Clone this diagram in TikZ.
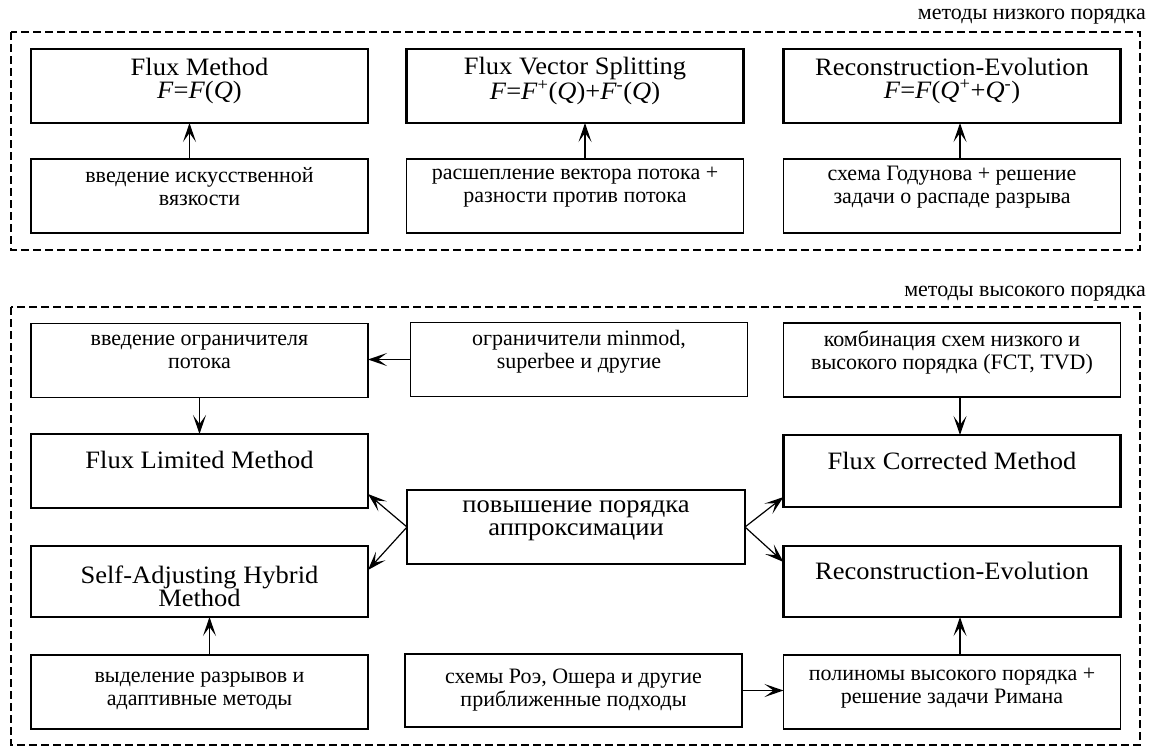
\documentclass[tikz,border=0pt]{standalone}
\usepackage{fontspec}
\setmainfont{Liberation Serif}
\newfontfamily\bigf[FakeStretch=1.06]{Liberation Serif}
\usetikzlibrary{arrows.meta}
\tikzset{
  tb/.style={draw, line width=2.6pt, minimum width=337pt, inner sep=0pt, outer sep=0pt},
  sb/.style={draw, line width=1.2pt, minimum width=337pt, inner sep=0pt, outer sep=0pt},
  bt/.style={align=center, font=\bigf\fontsize{25}{23}\selectfont, inner sep=0pt},
  st/.style={align=center, font=\fontsize{22}{23}\selectfont, inner sep=0pt},
  grp/.style={draw, line width=1.2pt, dash pattern=on 8pt off 4pt},
  grplab/.style={anchor=base east, font=\fontsize{22}{23}\selectfont, inner sep=0pt},
  arr/.style={-{Stealth[length=19pt,width=13pt,inset=9pt]}, line width=1.2pt},
  darr/.style={-{Stealth[length=19pt,width=13pt,inset=9pt]}, line width=1.9pt}
}
\begin{document}
\begin{tikzpicture}[x=1pt,y=-1pt]
\useasboundingbox (0,0) rectangle (1151,748);
% ---------- low order ----------
\node[grplab] (lab1) at (1146,19) {методы низкого порядка};
\draw[grp] (11,32) rectangle (1140,250);
\node[tb, minimum height=74pt] (fm) at (199.5,86) {};
\node[bt] (fmT) at (199.5,81) {Flux Method\\\textit{F}=\textit{F}(\textit{Q})};
\node[tb, minimum height=74pt] (fvs) at (575,86) {};
\node[bt] (fvsT) at (575,81) {Flux Vector Splitting\\\textit{F}=\textit{F}\textsuperscript{+}(\textit{Q})+\textit{F}\textsuperscript{-}(\textit{Q})};
\node[tb, minimum height=74pt] (re1) at (952,86) {};
\node[bt] (re1T) at (952,81) {Reconstruction-Evolution\\\textit{F}=\textit{F}(\textit{Q}\textsuperscript{+}+\textit{Q}\textsuperscript{-})};
\node[sb, minimum height=74pt] (av) at (199.5,196) {};
\node[st] (avT) at (199.5,187) {введение искусственной\\вязкости};
\node[sb, minimum height=74pt] (sp) at (575,196) {};
\node[st] (spT) at (575,187) {расшепление вектора потока +\\разности против потока};
\node[sb, minimum height=74pt] (gd) at (952,196) {};
\node[st] (gdT) at (952,187) {схема Годунова + решение\\задачи о распаде разрыва};
\draw[arr] ([xshift=-10pt]av.north) -- ([xshift=-10pt]fm.south);
\draw[arr] ([xshift=10pt]sp.north) -- ([xshift=10pt]fvs.south);
\draw[arr] ([xshift=8pt]gd.north) -- ([xshift=8pt]re1.south);
% ---------- high order ----------
\node[grplab] (lab2) at (1146,296) {методы высокого порядка};
\draw[grp] (11,307) rectangle (1140,745);
\node[sb, minimum height=74pt] (lim) at (199.5,360.5) {};
\node[st] (limT) at (199.5,352) {введение ограничителя\\потока};
\node[sb, minimum height=74pt] (mm) at (579,359.5) {};
\node[st] (mmT) at (579,352) {ограничители minmod,\\superbee и другие};
\node[sb, minimum height=74pt] (cmb) at (952,360) {};
\node[st] (cmbT) at (952,352) {комбинация схем низкого и\\высокого порядка (FCT, TVD)};
\node[tb, minimum height=74pt] (flm) at (199.5,471) {};
\node[bt] (flmT) at (199.5,460) {Flux Limited Method};
\node[tb, minimum height=72pt] (fcm) at (952,471) {};
\node[bt] (fcmT) at (952,461) {Flux Corrected Method};
\node[tb, minimum height=74pt, minimum width=338pt] (up) at (576,527) {};
\node[bt] (upT) at (576,521) {повышение порядка\\аппроксимации};
\node[tb, minimum height=71pt] (sah) at (199.5,581.5) {};
\node[bt] (sahT) at (199.5,586) {Self-Adjusting Hybrid\\Method};
\node[tb, minimum height=71pt] (re2) at (952,581.5) {};
\node[bt] (re2T) at (952,571) {Reconstruction-Evolution};
\node[sb, minimum height=74pt] (disc) at (199.5,692) {};
\node[st] (discT) at (199.5,691) {выделение разрывов и\\адаптивные методы};
\node[sb, minimum height=73pt] (roe) at (573.5,690.5) {};
\node[st] (roeT) at (573.5,690) {схемы Роэ, Ошера и другие\\приближенные подходы};
\node[sb, minimum height=74pt] (pol) at (952,692) {};
\node[st] (polT) at (952,688) {полиномы высокого порядка +\\решение задачи Римана};
% connectors
\draw[darr] (mm.west) -- (mm.west -| lim.east);
\draw[arr] (lim.south) -- (flm.north);
\draw[arr] ([xshift=8pt]cmb.south) -- ([xshift=8pt]fcm.north);
\draw[arr] (up.west) -- ([yshift=-23pt]flm.east);
\draw[arr] (up.west) -- ([yshift=11.5pt]sah.east);
\draw[arr] (up.east) -- ([yshift=-26pt]fcm.west);
\draw[arr] (up.east) -- ([yshift=19.5pt]re2.west);
\draw[arr] ([xshift=10pt]disc.north) -- ([xshift=10pt]sah.south);
\draw[arr] ([xshift=8pt]pol.north) -- ([xshift=8pt]re2.south);
\draw[darr] (roe.east) -- (roe.east -| pol.west);
\end{tikzpicture}
\end{document}
